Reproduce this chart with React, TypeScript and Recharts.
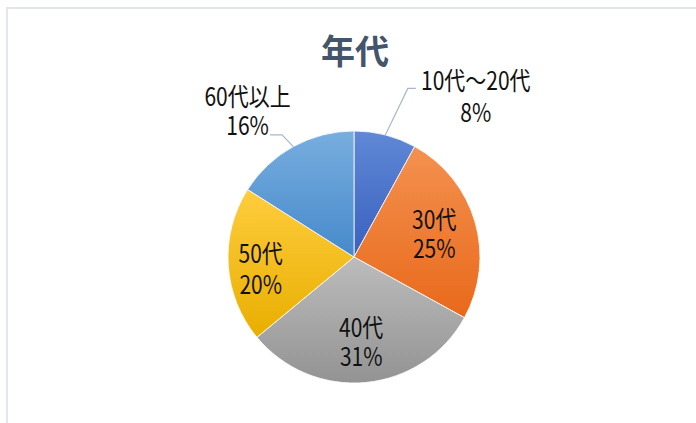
import React from 'react';
import { PieChart, Pie, Cell } from 'recharts';

const title = '年代';
const categories = ['10代～20代', '30代', '40代', '50代', '60代以上'];
const values = [8, 25, 31, 20, 16];
const percentLabels = ['8%', '25%', '31%', '20%', '16%'];

const gradients: [string, string][] = [
  ['#6088D6', '#3960BE'],
  ['#F4914F', '#E8691B'],
  ['#BCBCBC', '#939393'],
  ['#FFCD3E', '#E8AE00'],
  ['#78AEDF', '#4689CB'],
];

const data = categories.map((name, i) => ({ name, value: values[i], pct: percentLabels[i] }));

const FONT = '"Noto Sans CJK JP", "Noto Sans", sans-serif';
const SX = 0.84;
const FS = 25;
const RAD = Math.PI / 180;

type Layout =
  | { kind: 'inside'; r: number; da: number; gap: number }
  | { kind: 'outside'; elbowR: number; elbowDA: number; tailDx: number; textDx: number; dy1: number; dy2: number };

const labelLayout: Layout[] = [
  { kind: 'outside', elbowR: 177, elbowDA: -3.3, tailDx: 8, textDx: 68, dy1: -9, dy2: 23 },
  { kind: 'inside', r: 0.665, da: 0.5, gap: 29 },
  { kind: 'inside', r: 0.67, da: -0.5, gap: 29 },
  { kind: 'inside', r: 0.745, da: 2.7, gap: 31 },
  { kind: 'outside', elbowR: 141.7, elbowDA: 1.7, tailDx: -12, textDx: -34.5, dy1: -40, dy2: -11 },
];

const TwoLine = ({ x, y, gap, a, b }: { x: number; y: number; gap: number; a: string; b: string }) => (
  <text
    transform={`translate(${x} ${y}) scale(${SX} 1)`}
    x={0}
    y={0}
    textAnchor="middle"
    dominantBaseline="central"
    fontSize={FS}
    fontFamily={FONT}
    fill="#111"
  >
    <tspan x={0} dy={0}>{a}</tspan>
    <tspan x={0} dy={gap}>{b}</tspan>
  </text>
);

const renderLabel = (props: any) => {
  const { cx, cy, midAngle, outerRadius, index } = props;
  const L = labelLayout[index];
  const d = data[index];
  const pt = (r: number, a: number) => ({
    x: cx + r * Math.cos(-a * RAD),
    y: cy + r * Math.sin(-a * RAD),
  });
  if (L.kind === 'inside') {
    const c = pt(outerRadius * L.r, midAngle + L.da);
    return (
      <g key={`l${index}`}>
        <TwoLine x={c.x} y={c.y - L.gap / 2} gap={L.gap} a={d.name} b={d.pct} />
      </g>
    );
  }
  const edge = pt(outerRadius, midAngle);
  const elbow = pt(L.elbowR, midAngle + L.elbowDA);
  return (
    <g key={`l${index}`}>
      <polyline
        points={`${edge.x},${edge.y} ${elbow.x},${elbow.y} ${elbow.x + L.tailDx},${elbow.y}`}
        fill="none"
        stroke="#A9B6C9"
        strokeWidth={1.2}
      />
      <TwoLine x={elbow.x + L.textDx} y={elbow.y + L.dy1} gap={L.dy2 - L.dy1} a={d.name} b={d.pct} />
    </g>
  );
};

export default function App() {
  return (
    <div style={{ position: 'absolute', left: 0, top: 0, width: 696, height: 423, background: '#fff', overflow: 'hidden' }}>
      <div
        style={{
          position: 'absolute',
          left: 6,
          top: 7,
          width: 700,
          height: 430,
          borderLeft: '2px solid #E3E6EA',
          borderTop: '2px solid #E3E6EA',
          boxSizing: 'border-box',
        }}
      />
      <div
        style={{
          position: 'absolute',
          left: 255,
          width: 200,
          top: 33,
          textAlign: 'center',
          fontFamily: FONT,
          fontWeight: 700,
          fontSize: 34,
          lineHeight: '34px',
          color: '#44546A',
        }}
      >
        {title}
      </div>
      <div style={{ position: 'absolute', left: 0, top: 0 }}>
        <PieChart width={696} height={423} margin={{ top: 0, right: 0, bottom: 0, left: 0 }}>
          <defs>
            {gradients.map((g, i) => (
              <linearGradient key={i} id={`grad${i}`} x1="0" y1="0" x2="0" y2="1">
                <stop offset="0%" stopColor={g[0]} />
                <stop offset="100%" stopColor={g[1]} />
              </linearGradient>
            ))}
          </defs>
          <Pie
            data={data}
            dataKey="value"
            nameKey="name"
            cx={354}
            cy={257}
            outerRadius={126}
            startAngle={90}
            endAngle={-270}
            stroke="#ffffff"
            strokeWidth={0.8}
            label={renderLabel}
            labelLine={false}
            isAnimationActive={false}
          >
            {data.map((_, i) => (
              <Cell key={i} fill={`url(#grad${i})`} />
            ))}
          </Pie>
        </PieChart>
      </div>
    </div>
  );
}
